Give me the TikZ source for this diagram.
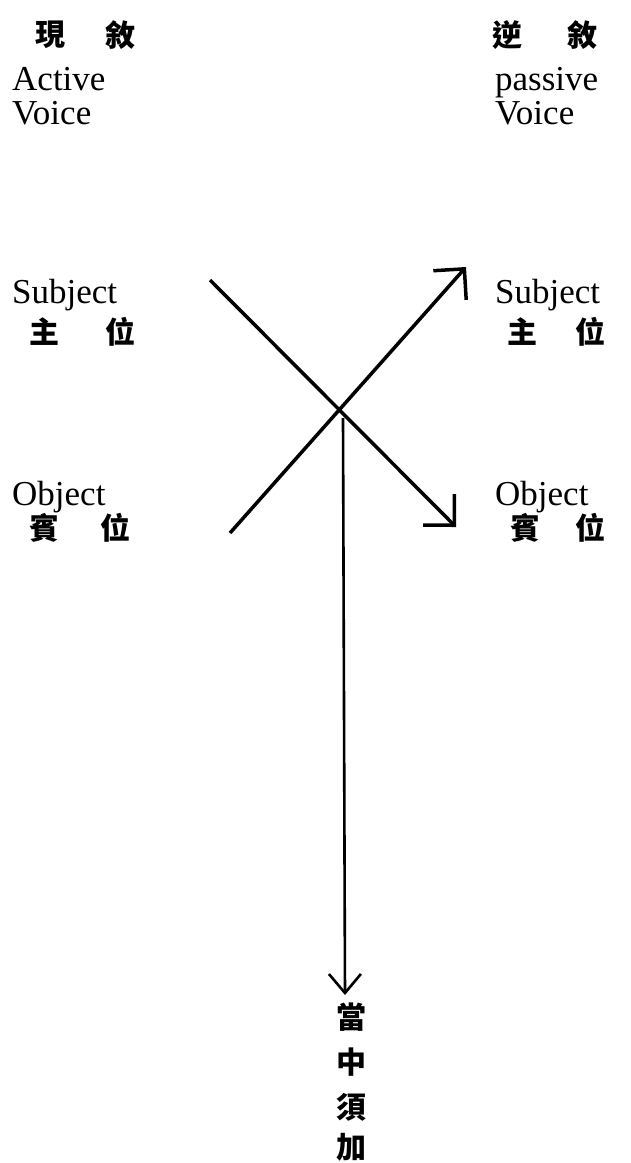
\documentclass[tikz,border=0pt]{standalone}
\usepackage{fontspec}
\setmainfont{Liberation Serif}
\newfontfamily\cjk{Noto Sans CJK TC}
\usetikzlibrary{arrows.meta}
\begin{document}
\begin{tikzpicture}[x=1pt,y=-1pt,
 lat/.style={font=\fontsize{35}{35}\selectfont, inner sep=0pt, anchor=base west},
 han/.style={font=\cjk\bfseries\fontsize{30}{30}\selectfont, inner sep=0pt},
 ln/.style={line width=3.5pt},
 barb/.style={-{Straight Barb[length=22pt,width=44pt]}},
 vbarb/.style={-{Straight Barb[length=19pt,width=32pt]}}]
\useasboundingbox (0,0) rectangle (631,1163);
% top left
\node[han] (xian) at (50,35) {現};
\node[han] (xu1) at (120,35) {敘};
\node[lat] (active) at (12,90) {Active};
\node[lat] (voiceL) at (12,124) {Voice};
% top right
\node[han] (ni) at (507,35) {逆};
\node[han] (xu2) at (582,35) {敘};
\node[lat] (passive) at (495,90) {passive};
\node[lat] (voiceR) at (495,124) {Voice};
% subjects
\node[lat] (subjL) at (12,303) {Subject};
\node[han] (zhuL) at (45,332) {主};
\node[han] (weiL) at (120,332) {位};
\node[lat] (subjR) at (495,303) {Subject};
\node[han] (zhuR) at (522,332) {主};
\node[han] (weiR) at (590,332) {位};
% objects
\node[lat] (objL) at (12,505) {Object};
\node[han] (binL) at (45,528) {賓};
\node[han] (weiL2) at (115,528) {位};
\node[lat] (objR) at (495,505) {Object};
\node[han] (binR) at (525,528) {賓};
\node[han] (weiR2) at (590,528) {位};
% bottom
\node[han] (dang) at (351,1017) {當};
\node[han] (zhong) at (351,1062) {中};
\node[han] (xu) at (351,1107) {須};
\node[han] (jia) at (351,1147) {加};
% connectors
\coordinate (a1) at (210,280);
\coordinate (a2) at (456,527);
\coordinate (b1) at (230,533);
\coordinate (b2) at (466,267);
\coordinate (c1) at (343,418);
\coordinate (c2) at (345,995);
\draw[ln,barb] (a1) -- (a2);
\draw[ln,barb] (b1) -- (b2);
\draw[line width=2.6pt,vbarb] (c1) -- (c2);
\end{tikzpicture}
\end{document}
